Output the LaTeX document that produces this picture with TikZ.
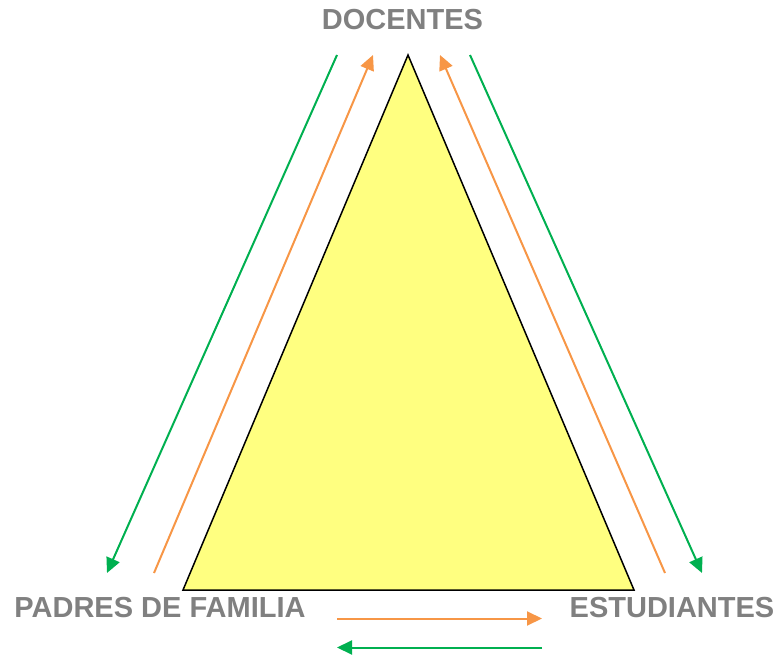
\documentclass[tikz,border=0pt]{standalone}
\usepackage{fontspec}
\setmainfont{Liberation Sans}
\usetikzlibrary{arrows.meta}
\definecolor{lbl}{HTML}{808080}
\definecolor{org}{HTML}{F79646}
\definecolor{grn}{HTML}{00B050}
\definecolor{tri}{HTML}{FFFF80}
\begin{document}
\begin{tikzpicture}[x=1pt,y=-1pt,
  lab/.style={text=lbl,font=\fontsize{29}{31}\selectfont\bfseries,inner sep=0pt},
  oarr/.style={draw=org,line width=2pt,-{Triangle[length=15pt,width=14pt]}},
  garr/.style={draw=grn,line width=2pt,-{Triangle[length=15pt,width=14pt]}}]
\useasboundingbox (0,0) rectangle (777,658);
\coordinate (T) at (408,55);
\coordinate (BL) at (183,590);
\coordinate (BR) at (634,590);
\filldraw[fill=tri,draw=black,line width=1.5pt] (T) -- (BL) -- (BR) -- cycle;
\node[lab] (doc) at (402.5,20) {DOCENTES};
\node[lab] (pad) at (160,608) {PADRES DE FAMILIA};
\node[lab] (est) at (672,608) {ESTUDIANTES};
\coordinate (g1s) at (337,55);  \coordinate (g1e) at (107,573);
\coordinate (o1s) at (154,573); \coordinate (o1e) at (373,55);
\coordinate (o2s) at (665,573); \coordinate (o2e) at (440,55);
\coordinate (g2s) at (470,55);  \coordinate (g2e) at (702,573);
\coordinate (o3s) at (337,618.5); \coordinate (o3e) at (542,618.5);
\coordinate (g3s) at (542,647.5); \coordinate (g3e) at (337,647.5);
\draw[garr] (g1s) -- (g1e);
\draw[oarr] (o1s) -- (o1e);
\draw[oarr] (o2s) -- (o2e);
\draw[garr] (g2s) -- (g2e);
\draw[oarr] (o3s) -- (o3e);
\draw[garr] (g3s) -- (g3e);
\end{tikzpicture}
\end{document}
